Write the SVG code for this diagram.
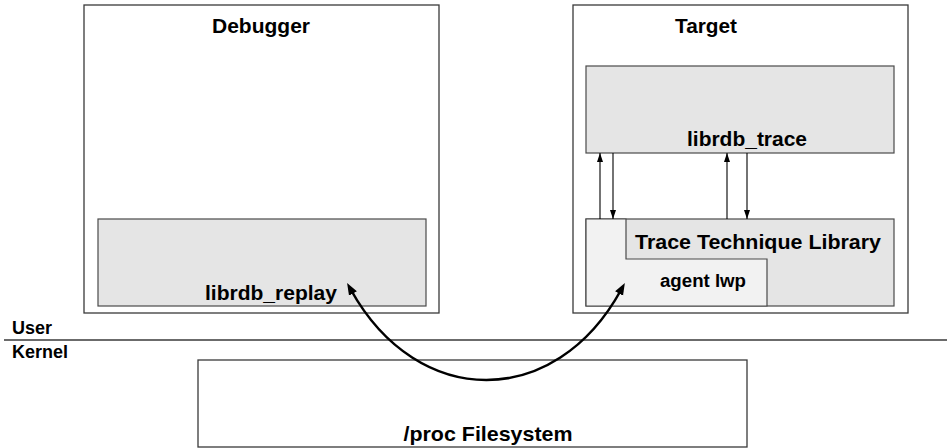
<svg xmlns="http://www.w3.org/2000/svg" width="947" height="448" viewBox="0 0 947 448">
<style>
.box{fill:#ffffff;stroke:#3a3a3a;stroke-width:1.3}
.inner{fill:#e5e5e5;stroke:#4a4a4a;stroke-width:1.2}
.light{fill:#f2f2f2;stroke:#4a4a4a;stroke-width:1.2}
.t{font-family:"Liberation Sans",Arial,sans-serif;font-weight:bold;font-size:21px;fill:#000}
.s{font-family:"Liberation Sans",Arial,sans-serif;font-weight:bold;font-size:18px;fill:#000}
.thin{fill:none;stroke:#000;stroke-width:1.1}
.curve{fill:none;stroke:#000;stroke-width:2.5}
</style>
<defs>
<marker id="sm" markerUnits="userSpaceOnUse" markerWidth="10" markerHeight="8" refX="9" refY="3" orient="auto-start-reverse" viewBox="0 0 10 6">
<path d="M0,0 L9,3 L0,6 z" fill="#000"/>
</marker>
<marker id="big" markerUnits="userSpaceOnUse" markerWidth="14" markerHeight="10" refX="4" refY="4.5" orient="auto-start-reverse" viewBox="0 0 14 9">
<path d="M0,0 L12,4.5 L0,9 z" fill="#000"/>
</marker>
</defs>
<g id="boundary">
<line x1="4" y1="340" x2="947" y2="340" stroke="#3a3a3a" stroke-width="1.3"/>
<text class="s" x="12" y="334" textLength="40" lengthAdjust="spacingAndGlyphs">User</text>
<text class="s" x="12" y="358" textLength="56" lengthAdjust="spacingAndGlyphs">Kernel</text>
</g>
<g id="debugger">
<rect class="box" x="84" y="5" width="355" height="308"/>
<text class="t" x="261" y="33" text-anchor="middle" textLength="98" lengthAdjust="spacingAndGlyphs">Debugger</text>
</g>
<g id="librdb_replay">
<rect class="inner" x="98" y="219" width="328" height="87"/>
<text class="t" x="271" y="300" text-anchor="middle" textLength="132" lengthAdjust="spacingAndGlyphs">librdb_replay</text>
</g>
<g id="target">
<rect class="box" x="573" y="5" width="335" height="308"/>
<text class="t" x="706" y="33" text-anchor="middle" textLength="62" lengthAdjust="spacingAndGlyphs">Target</text>
</g>
<g id="librdb_trace">
<rect class="inner" x="586" y="66" width="308" height="87"/>
<text class="t" x="747" y="146" text-anchor="middle" textLength="120" lengthAdjust="spacingAndGlyphs">librdb_trace</text>
</g>
<g id="trace_technique_library">
<rect class="inner" x="586" y="219" width="308" height="87"/>
<text class="t" x="758" y="249" text-anchor="middle" textLength="246" lengthAdjust="spacingAndGlyphs">Trace Technique Library</text>
</g>
<g id="agent_lwp">
<path class="light" d="M586,219 L626,219 L626,259 L767,259 L767,306 L586,306 z"/>
<text class="s" x="703" y="287" text-anchor="middle" textLength="86" lengthAdjust="spacingAndGlyphs">agent lwp</text>
</g>
<g id="proc_filesystem">
<rect class="box" x="198" y="360" width="549" height="87"/>
<text class="t" x="488" y="441" text-anchor="middle" textLength="169" lengthAdjust="spacingAndGlyphs">/proc Filesystem</text>
</g>
<g id="connectors">
<line class="thin" x1="600" y1="219" x2="600" y2="153" marker-end="url(#sm)"/>
<line class="thin" x1="613" y1="153" x2="613" y2="219" marker-end="url(#sm)"/>
<line class="thin" x1="727" y1="219" x2="727" y2="153" marker-end="url(#sm)"/>
<line class="thin" x1="747" y1="153" x2="747" y2="219" marker-end="url(#sm)"/>
<path class="curve" d="M351,290 C418,410 555,410 621,290" marker-start="url(#big)" marker-end="url(#big)"/>
</g>
</svg>
